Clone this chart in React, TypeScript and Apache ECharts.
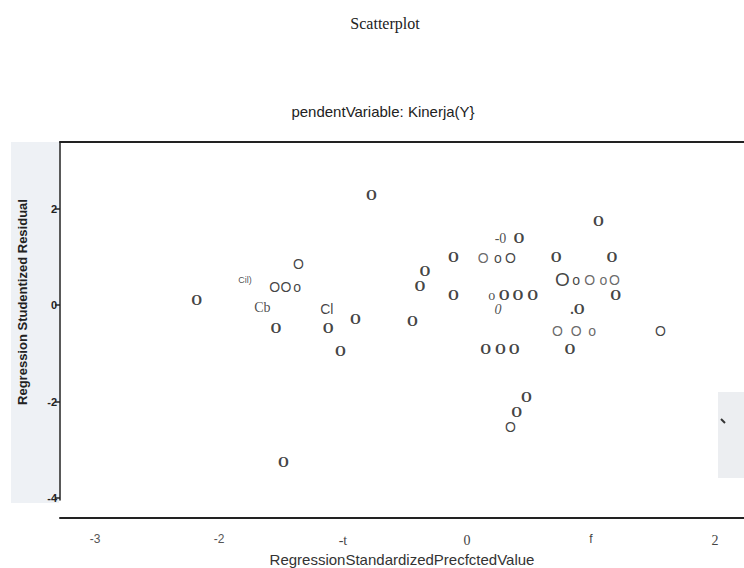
import React, { useEffect, useRef } from "react";
import * as echarts from "echarts";

// ---- data ----
const xValues = [
  -0.77, 1.06, 0.27, 0.42, -0.11, 0.13, 0.25, 0.35, 0.72, 1.17,
  -1.36, -0.34, -1.79, 0.77, 0.88, 0.99, 1.1, 1.19, -1.55, -1.46,
  -1.37, -0.38, -2.18, -0.11, 0.2, 0.3, 0.41, 0.53, 1.2, -1.65,
  -1.13, 0.25, 0.89, -0.9, -0.44, -1.54, -1.12, 0.73, 0.88, 1.01,
  1.56, -1.02, 0.15, 0.27, 0.38, 0.83, 0.48, 0.4, 0.35, -1.48,
];
const yValues = [
  2.27, 1.73, 1.38, 1.38, 0.98, 0.98, 0.98, 0.98, 0.98, 0.98,
  0.85, 0.69, 0.52, 0.52, 0.52, 0.52, 0.52, 0.52, 0.38, 0.38,
  0.38, 0.38, 0.1, 0.19, 0.19, 0.19, 0.19, 0.19, 0.19, -0.04,
  -0.08, -0.09, -0.09, -0.29, -0.35, -0.48, -0.48, -0.54, -0.54, -0.54,
  -0.54, -0.96, -0.92, -0.92, -0.92, -0.92, -1.92, -2.23, -2.52, -3.27,
];
const glyphs = [
  "O", "O", "-0", "O", "O", "O", "o", "O", "O", "O",
  "O", "O", "Cil)", "O", "o", "O", "o", "O", "O", "O",
  "o", "O", "O", "O", "o", "O", "O", "O", "O", "Cb",
  "Cl", "0", ".O", "O", "O", "O", "O", "O", "O", "o",
  "O", "O", "O", "O", "O", "O", "O", "O", "O", "O",
];
const glyphKinds = [
  "sb", "sb", "sr", "sb", "sb", "sw", "s", "s", "sb", "sb",
  "s", "sb", "tiny", "sl", "s", "sw", "sw", "sw", "s", "s",
  "s", "sb", "sb", "sb", "sr", "sb", "sb", "sb", "sb", "sr",
  "s", "si", "sb", "sb", "sb", "sb", "sb", "sw", "sw", "sw",
  "s", "sb", "sb", "sb", "sb", "sb", "sb", "sb", "s", "sb",
];
const xTickValues = [-3, -2, -1, 0, 1, 2];
const xTickLabels = ["-3", "-2", "-t", "0", "f", "2"];
const xTickKinds = ["a", "a", "b", "b", "c", "b"];
const yTickValues = [-4, -2, 0, 2];
const yTickLabels = ["-4", "-2", "0", "2"];

const titleText = "Scatterplot";
const subtitleText = "pendentVariable: Kinerja(Y}";
const xAxisName = "RegressionStandardizedPrecfctedValue";
const yAxisName = "Regression Studentized Residual";

const SERIF = "'Liberation Serif', 'DejaVu Serif', serif";
const SANS = "'Liberation Sans', Arial, sans-serif";

const glyphStyles: Record<string, any> = {
  sb: { fontFamily: SERIF, fontWeight: "bold", fontSize: 14, color: "#111" },
  sr: { fontFamily: SERIF, fontWeight: "normal", fontSize: 14, color: "#222" },
  si: { fontFamily: SERIF, fontStyle: "italic", fontSize: 14, color: "#222" },
  s: { fontFamily: SANS, fontWeight: "normal", fontSize: 14, color: "#111" },
  sw: { fontFamily: SANS, fontWeight: "normal", fontSize: 14, color: "#444" },
  sl: { fontFamily: SANS, fontWeight: "normal", fontSize: 19, color: "#111" },
  tiny: { fontFamily: SANS, fontWeight: "normal", fontSize: 9, color: "#222" },
};

export default function App() {
  const ref = useRef<HTMLDivElement>(null);

  useEffect(() => {
    if (!ref.current) return;
    const chart = echarts.init(ref.current, null, { renderer: "svg" });

    const data = xValues.map((x, i) => ({
      value: [x, yValues[i]],
      label: { formatter: glyphs[i], ...glyphStyles[glyphKinds[i]] },
    }));

    chart.setOption({
      animation: false,
      backgroundColor: "#ffffff",
      title: [
        {
          text: titleText,
          left: 380,
          top: 10,
          textAlign: "center",
          textStyle: { fontFamily: SERIF, fontWeight: "normal", fontSize: 16, color: "#222" },
        },
        {
          text: subtitleText,
          left: 378,
          top: 99,
          textAlign: "center",
          textStyle: { fontFamily: SANS, fontWeight: "normal", fontSize: 15, color: "#222" },
        },
      ],
      graphic: [
        {
          type: "rect",
          z: -10,
          shape: { x: 11, y: 142, width: 48, height: 361 },
          style: { fill: "#eef1f5" },
        },
        {
          type: "text",
          x: 22,
          y: 302,
          rotation: Math.PI / 2,
          style: {
            text: yAxisName,
            fontFamily: SANS,
            fontWeight: "bold",
            fontSize: 13,
            fill: "#222",
            align: "center",
            verticalAlign: "middle",
          },
        },
        {
          type: "rect",
          z: -10,
          shape: { x: 718, y: 392, width: 26, height: 86 },
          style: { fill: "#eceef1" },
        },
        {
          type: "line",
          shape: { x1: 721, y1: 419, x2: 725, y2: 423 },
          style: { stroke: "#333", lineWidth: 2 },
        },
      ],
      grid: {
        left: 60,
        right: 0,
        top: 142,
        bottom: 68,
        containLabel: false,
        outerBoundsMode: "none",
      },
      xAxis: [
        {
          type: "value",
          min: -3.282,
          max: 2.234,
          offset: 18,
          position: "bottom",
          splitLine: { show: false },
          axisLine: { show: true, onZero: false, lineStyle: { color: "#222", width: 2 } },
          axisTick: { show: false },
          axisLabel: {
            customValues: xTickValues,
            margin: 15,
            formatter: (v: number) => {
              const i = xTickValues.indexOf(v);
              if (i < 0) return "";
              return "{" + xTickKinds[i] + "|" + xTickLabels[i] + "}";
            },
            rich: {
              a: { fontFamily: SANS, fontSize: 12, color: "#555" },
              b: { fontFamily: SERIF, fontSize: 14, color: "#444" },
              c: { fontFamily: SANS, fontSize: 12, color: "#444" },
            },
          },
          name: xAxisName,
          nameLocation: "middle",
          nameGap: 32,
          nameTextStyle: { fontFamily: SANS, fontSize: 15, color: "#333" },
        },
        {
          type: "value",
          min: -3.282,
          max: 2.234,
          position: "top",
          splitLine: { show: false },
          axisLine: { show: true, onZero: false, lineStyle: { color: "#222", width: 2 } },
          axisTick: { show: false },
          axisLabel: { show: false },
        },
      ],
      yAxis: {
        type: "value",
        min: -4.04,
        max: 3.38,
        position: "left",
        splitLine: { show: false },
        axisLine: { show: true, onZero: false, lineStyle: { color: "#222", width: 1.5 } },
        axisTick: {
          show: true,
          customValues: yTickValues,
          length: 5,
          lineStyle: { color: "#222", width: 1.5 },
        },
        axisLabel: {
          customValues: yTickValues,
          margin: 3,
          fontFamily: SANS,
          fontWeight: "bold",
          fontSize: 11,
          color: "#222",
          formatter: (v: number) => {
            const i = yTickValues.indexOf(v);
            return i < 0 ? "" : yTickLabels[i];
          },
        },
      },
      series: [
        {
          type: "scatter",
          xAxisIndex: 0,
          symbolSize: 1,
          itemStyle: { color: "rgba(0,0,0,0)" },
          silent: true,
          label: { show: true, position: "inside" },
          emphasis: { disabled: true },
          data,
        },
      ],
    });

    return () => chart.dispose();
  }, []);

  return (
    <div
      ref={ref}
      style={{ position: "absolute", left: 0, top: 0, width: 744, height: 568 }}
    />
  );
}
